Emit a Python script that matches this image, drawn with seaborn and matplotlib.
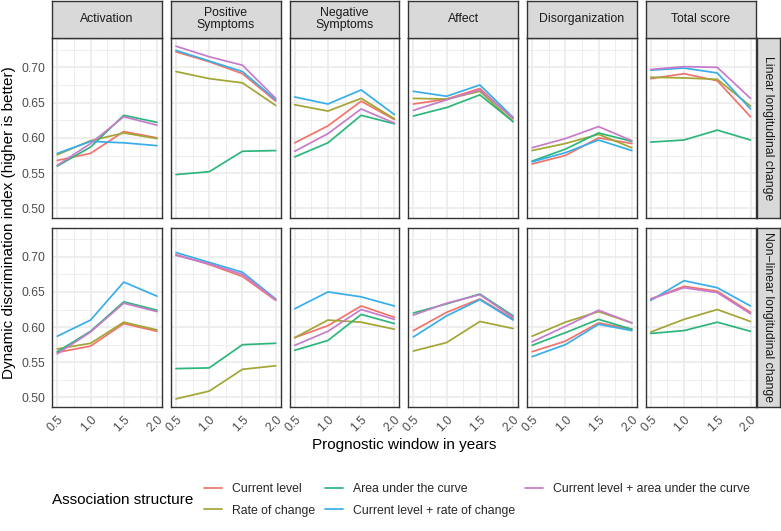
import numpy as np
import pandas as pd
import seaborn as sns
import matplotlib.pyplot as plt
from matplotlib.lines import Line2D

windows = [0.5, 1.0, 1.5, 2.0]
domains = ["Activation", "Positive\nSymptoms", "Negative\nSymptoms",
           "Affect", "Disorganization", "Total score"]
changes = ["Linear longitudinal change", "Non\u2212linear longitudinal change"]
structures = ["Current level", "Rate of change", "Area under the curve",
              "Current level + rate of change", "Current level + area under the curve"]
colors = ["#F0746B", "#A3A534", "#2DB67B", "#38AEE9", "#C67BCB"]

# rows = domains (same order as above), cols = windows
current_level_lin = [
    [0.568, 0.578, 0.609, 0.600],
    [0.722, 0.708, 0.691, 0.652],
    [0.593, 0.617, 0.652, 0.626],
    [0.648, 0.655, 0.670, 0.627],
    [0.563, 0.575, 0.600, 0.592],
    [0.684, 0.691, 0.681, 0.630],
]
rate_change_lin = [
    [0.576, 0.596, 0.607, 0.599],
    [0.694, 0.684, 0.678, 0.646],
    [0.647, 0.638, 0.656, 0.627],
    [0.656, 0.655, 0.666, 0.623],
    [0.582, 0.592, 0.605, 0.586],
    [0.686, 0.685, 0.683, 0.645],
]
auc_lin = [
    [0.560, 0.587, 0.632, 0.622],
    [0.548, 0.552, 0.581, 0.582],
    [0.573, 0.593, 0.632, 0.620],
    [0.631, 0.643, 0.661, 0.623],
    [0.567, 0.584, 0.607, 0.595],
    [0.594, 0.597, 0.611, 0.597],
]
cl_rate_lin = [
    [0.578, 0.595, 0.593, 0.589],
    [0.724, 0.709, 0.694, 0.654],
    [0.658, 0.648, 0.668, 0.633],
    [0.666, 0.659, 0.675, 0.629],
    [0.566, 0.579, 0.597, 0.582],
    [0.696, 0.699, 0.692, 0.641],
]
cl_auc_lin = [
    [0.561, 0.592, 0.630, 0.618],
    [0.730, 0.715, 0.703, 0.656],
    [0.581, 0.606, 0.641, 0.621],
    [0.639, 0.654, 0.668, 0.628],
    [0.586, 0.599, 0.616, 0.596],
    [0.697, 0.701, 0.700, 0.656],
]

current_level_nl = [
    [0.564, 0.573, 0.605, 0.594],
    [0.703, 0.689, 0.672, 0.638],
    [0.585, 0.602, 0.630, 0.614],
    [0.595, 0.621, 0.640, 0.612],
    [0.565, 0.580, 0.606, 0.597],
    [0.640, 0.658, 0.651, 0.621],
]
rate_change_nl = [
    [0.569, 0.577, 0.607, 0.596],
    [0.498, 0.509, 0.540, 0.545],
    [0.585, 0.610, 0.607, 0.597],
    [0.566, 0.578, 0.608, 0.598],
    [0.587, 0.607, 0.622, 0.606],
    [0.593, 0.611, 0.625, 0.608],
]
auc_nl = [
    [0.565, 0.594, 0.636, 0.624],
    [0.541, 0.542, 0.575, 0.577],
    [0.567, 0.581, 0.618, 0.605],
    [0.620, 0.633, 0.647, 0.616],
    [0.574, 0.592, 0.611, 0.597],
    [0.591, 0.595, 0.607, 0.594],
]
cl_rate_nl = [
    [0.587, 0.610, 0.664, 0.644],
    [0.706, 0.692, 0.678, 0.640],
    [0.626, 0.650, 0.643, 0.630],
    [0.586, 0.616, 0.639, 0.610],
    [0.558, 0.575, 0.604, 0.595],
    [0.638, 0.666, 0.656, 0.630],
]
cl_auc_nl = [
    [0.562, 0.593, 0.634, 0.622],
    [0.702, 0.690, 0.675, 0.639],
    [0.574, 0.594, 0.625, 0.611],
    [0.617, 0.634, 0.646, 0.614],
    [0.579, 0.601, 0.624, 0.606],
    [0.640, 0.656, 0.649, 0.619],
]

series = {
    changes[0]: [current_level_lin, rate_change_lin, auc_lin, cl_rate_lin, cl_auc_lin],
    changes[1]: [current_level_nl, rate_change_nl, auc_nl, cl_rate_nl, cl_auc_nl],
}

rows = []
for change, tables in series.items():
    for struct, table in zip(structures, tables):
        for dom, vals in zip(domains, table):
            for w, v in zip(windows, vals):
                rows.append((change, dom, struct, w, v))
df = pd.DataFrame(rows, columns=["change", "domain", "structure", "window", "value"])

sns.set_theme(style="white")
plt.rcParams["font.family"] = ["Liberation Sans", "DejaVu Sans"]

W, H = 781, 531
fig = plt.figure(figsize=(W / 100, H / 100), dpi=100)


def px(x0, y0, x1, y1):
    return [x0 / W, 1 - y1 / H, (x1 - x0) / W, (y1 - y0) / H]


col_x = [52.3 + i * 118.7 for i in range(6)]
pw = 109.7
row_y = [(38, 218), (227.5, 407)]
edge = "#333333"
palette = dict(zip(structures, colors))

for r, change in enumerate(changes):
    for c, dom in enumerate(domains):
        x0 = col_x[c]
        y0, y1 = row_y[r]
        ax = fig.add_axes(px(x0, y0, x0 + pw, y1))
        sub = df[(df.change == change) & (df.domain == dom)]
        sns.lineplot(data=sub, x="window", y="value", hue="structure",
                     hue_order=structures, palette=palette, ax=ax,
                     legend=False, linewidth=1.25)
        ax.set_xlim(0.425, 2.075)
        ax.set_ylim(0.4864, 0.7416)
        ax.set_xticks(windows)
        ax.set_xticks([0.75, 1.25, 1.75], minor=True)
        ax.set_yticks([0.50, 0.55, 0.60, 0.65, 0.70])
        ax.set_yticks([0.525, 0.575, 0.625, 0.675, 0.725], minor=True)
        ax.set_axisbelow(True)
        ax.grid(which="major", color="#EBEBEB", lw=1.2)
        ax.grid(which="minor", color="#EBEBEB", lw=0.6)
        ax.set_xlabel("")
        ax.set_ylabel("")
        for s in ax.spines.values():
            s.set_color(edge)
            s.set_linewidth(1.0)
        ax.tick_params(which="minor", length=0)
        ax.tick_params(which="major", length=2.75, width=0.8, color=edge,
                       labelcolor="#4D4D4D", labelsize=8.8, pad=2.2)
        if c == 0:
            ax.set_yticklabels(["0.50", "0.55", "0.60", "0.65", "0.70"])
        else:
            ax.tick_params(axis="y", left=False, labelleft=False)
        if r == 1:
            ax.set_xticklabels(["0.5", "1.0", "1.5", "2.0"], rotation=45,
                               ha="right", va="top", rotation_mode="anchor")
        else:
            ax.tick_params(axis="x", bottom=False, labelbottom=False)

        if r == 0:
            sa = fig.add_axes(px(x0, 1, x0 + pw, 37.5))
            sa.set_facecolor("#D9D9D9")
            sa.set_xticks([])
            sa.set_yticks([])
            for s in sa.spines.values():
                s.set_color(edge)
                s.set_linewidth(1.0)
            sa.text(0.5, 0.5, dom, ha="center", va="center", fontsize=8.8,
                    color="#1A1A1A", linespacing=1.0, transform=sa.transAxes)

    y0, y1 = row_y[r]
    ra = fig.add_axes(px(756.5, y0, 780, y1))
    ra.set_facecolor("#D9D9D9")
    ra.set_xticks([])
    ra.set_yticks([])
    for s in ra.spines.values():
        s.set_color(edge)
        s.set_linewidth(1.0)
    ra.text(0.5, 0.5, change, ha="center", va="center", rotation=270,
            fontsize=8.8, color="#1A1A1A", transform=ra.transAxes)

fig.text(9 / W, 1 - 222.5 / H, "Dynamic discrimination index (higher is better)",
         rotation=90, ha="center", va="center", fontsize=11, color="black")
fig.text(404 / W, 1 - 445 / H, "Prognostic window in years",
         ha="center", va="center", fontsize=11, color="black")
fig.text(52 / W, 1 - 500 / H, "Association structure",
         ha="left", va="center", fontsize=11, color="black")

handles = [Line2D([0], [0], color=col, lw=1.25) for col in colors]
fig.legend(handles, structures, loc="center left",
           bbox_to_anchor=(204 / W, 1 - 500 / H), ncol=3, frameon=False,
           fontsize=8.8, handlelength=1.5, handletextpad=0.8,
           columnspacing=0.8, labelspacing=0.75, borderpad=0, borderaxespad=0)

fig.savefig("out.png", dpi=100)
